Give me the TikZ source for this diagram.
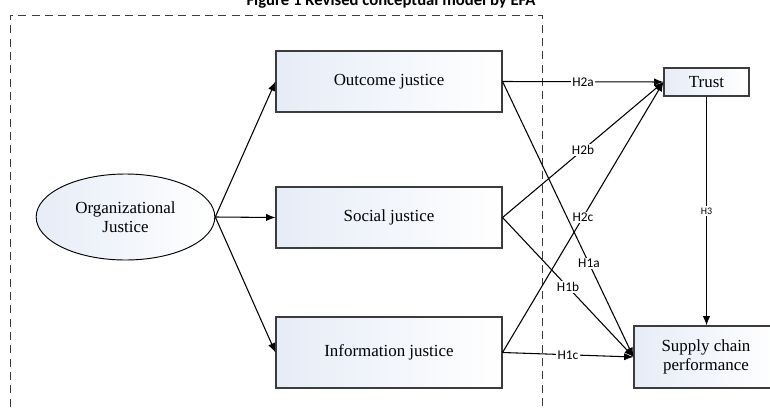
\documentclass[tikz,border=0pt]{standalone}
\usepackage{fontspec}
\setmainfont{Liberation Serif}
\newfontfamily\labelfont{Carlito}
\usetikzlibrary{positioning, arrows.meta, shapes.geometric}
\definecolor{boxblue}{HTML}{E6ECF7}
\definecolor{edgegray}{HTML}{3C3C3C}

\begin{document}
\begin{tikzpicture}[
      x=0.75pt, y=-0.75pt,
      every node/.style={font=\fontsize{12.7}{14.5}\selectfont},
      softfill/.style={left color=boxblue, right color=white},
      construct/.style={draw=edgegray, line width=0.8pt, softfill,
                        minimum width=#1, align=center, inner sep=2pt},
      hyp/.style={fill=white, inner sep=1pt, font=\labelfont\fontsize{10}{11}\selectfont},
      link/.style={line width=0.8pt, -{Latex[length=7pt,width=5.5pt]}},
    ]
    \useasboundingbox (0,0) rectangle (770,407);

    % title and dashed frame (open at the bottom)
    \node[font=\labelfont\bfseries\fontsize{12.5}{14}\selectfont, anchor=base]
      (title) at (391,5) {Figure 1 Revised conceptual model by EFA};
    \draw[edgegray, line width=0.7pt, dash pattern=on 6pt off 4pt]
      (10,420) -- (10,15) -- (542,15) -- (542,420);

    \node[ellipse, draw=black, line width=0.7pt, softfill,
          minimum width=134pt, minimum height=64.5pt, inner sep=0pt, align=center]
      (org) at (125.5,217) {Organizational\\Justice};

    \node[construct=169.5pt, minimum height=45.75pt] (outcome) at (389,81.5) {Outcome justice};
    \node[construct=169.5pt, minimum height=45.75pt] (social)  at (389,217.5) {Social justice};
    \node[construct=169.5pt, minimum height=53.25pt] (info)    at (389,352.5) {Information justice};
    \node[construct=63.75pt, minimum height=21pt]    (trust)   at (706.5,82) {Trust};
    \node[construct=108pt, minimum height=46.5pt]    (scp)     at (706,357) {Supply chain\\performance};

    \draw[link] (org.east) -- (outcome.west);
    \draw[link] (org.east) -- (social.west);
    \draw[link] (org.east) -- (info.west);

    \draw[link] (outcome.east) -- node[hyp] {H2a} (trust.west);
    \draw[link] (outcome.east) -- node[hyp, pos=0.66] {H1a} (scp.west);
    \draw[link] (social.east) -- node[hyp] {H2b} (trust.west);
    \draw[link] (social.east) -- node[hyp] {H1b} (scp.west);
    \draw[link] (info.east) -- node[hyp] {H2c} (trust.west);
    \draw[link] (info.east) -- node[hyp] {H1c} (scp.west);
    \draw[link] (trust.south) -- node[hyp, font=\labelfont\fontsize{7.5}{9}\selectfont] {H3} (scp.north -| trust.south);
\end{tikzpicture}
\end{document}
